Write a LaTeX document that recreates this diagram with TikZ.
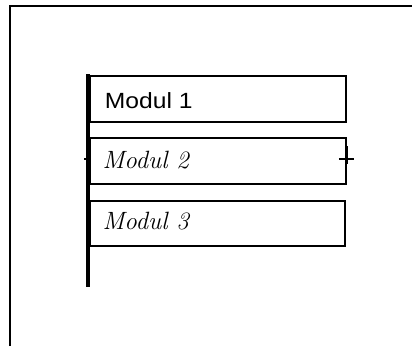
\documentclass[tikz,border=0pt]{standalone}
\usepackage{fontspec}
\newfontfamily\arialfont{Liberation Sans}
\begin{document}
\begin{tikzpicture}[x=1pt,y=-1pt,
  modbox/.style={draw, line width=1.8pt, minimum width=256pt, minimum height=46pt, inner sep=0pt, anchor=north west},
  printed/.style={font=\arialfont\fontsize{22}{26}\selectfont, anchor=west, xscale=1.12},
  hand/.style={font=\itshape\fontsize{25}{30}\selectfont, anchor=west}]
\useasboundingbox (0,0) rectangle (412,346);
% frame
\draw[line width=1.4pt] (10,346) -- (10,6) -- (412,6);
% boxes
\node[modbox] (m1) at (89,75) {};
\node[modbox] (m2) at (89,137) {};
\node[modbox, minimum width=255pt, minimum height=45pt] (m3) at (89,200) {};
% texts
\node[printed] (t1) at (101,101) {Modul 1};
\node[hand] (t2) at (99,160) {Modul 2};
\node[hand] (t3) at (99,221) {Modul 3};
% bus bar
\coordinate (bt) at (88,74);
\coordinate (bb) at (88,287);
\draw[line width=4pt] (bt) -- (bb);
% ticks on Modul 2
\draw[line width=1.4pt] ([xshift=-5pt,yshift=2pt]m2.west) -- ([yshift=2pt]m2.west);
\draw[line width=2.2pt] ([xshift=-8pt,yshift=2pt]m2.east) -- ([xshift=7pt,yshift=2pt]m2.east);
\draw[line width=2.2pt] ([yshift=-3pt]m2.east) -- ([yshift=15pt]m2.east);
\end{tikzpicture}
\end{document}
